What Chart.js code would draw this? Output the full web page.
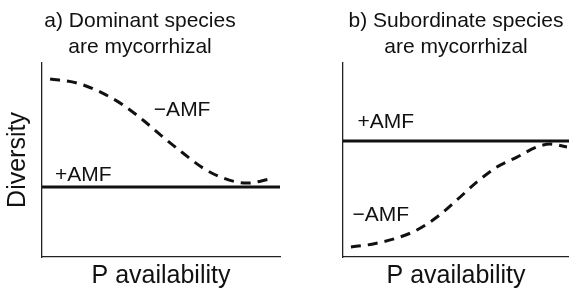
<!DOCTYPE html>
<html lang="en">
<head>
<meta charset="UTF-8">
<title>Diversity vs P availability</title>
<script src="https://cdn.jsdelivr.net/npm/chart.js"></script>
<style>
    body { margin: 0; background: #fff; width: 569px; height: 288px; position: relative; overflow: hidden; }
    canvas { position: absolute; top: 0; }
    #panelA { left: 0; }
    #panelB { left: 290px; }
</style>
</head>
<body>
<canvas id="panelA" width="290" height="288"></canvas>
<canvas id="panelB" width="279" height="288"></canvas>
<script>
// panel a) dominant species are mycorrhizal
const titleA = ['a) Dominant species', 'are mycorrhizal'];
const xA = [0.34, 1.47, 2.44, 3.40, 4.24, 5.08, 5.92, 6.76, 7.61, 8.61, 9.58];
const minusAmfA = [9.18, 8.97, 8.51, 7.84, 7.06, 6.19, 5.36, 4.59, 4.07, 3.81, 4.02];
const plusAmfA = 3.61;

// panel b) subordinate species are mycorrhizal
const titleB = ['b) Subordinate species', 'are mycorrhizal'];
const xB = [0.35, 1.33, 2.39, 3.27, 4.16, 5.04, 5.93, 6.81, 7.70, 8.58, 9.16, 9.91];
const minusAmfB = [0.52, 0.67, 0.98, 1.39, 2.06, 2.94, 3.87, 4.64, 5.15, 5.67, 5.82, 5.67];
const plusAmfB = 5.98;

const xLabel = 'P availability';
const yLabel = 'Diversity';

// curve labels, anchored in data units
const labelsA = [{ text: '\u2212AMF', x: 4.7, y: 7.58 }, { text: '+AMF', x: 0.55, y: 4.23 }];
const labelsB = [{ text: '+AMF', x: 0.64, y: 6.96 }, { text: '\u2212AMF', x: 0.42, y: 2.16 }];

const FONT = '"Liberation Sans", Arial, sans-serif';
const INK = '#111';

const curveLabels = {
    id: 'curveLabels',
    afterDatasetsDraw(chart, args, opts) {
        const { ctx, scales: { x, y } } = chart;
        ctx.save();
        ctx.font = '21px ' + FONT;
        ctx.fillStyle = INK;
        ctx.textBaseline = 'middle';
        ctx.textAlign = 'left';
        (opts.items || []).forEach(it => {
            ctx.fillText(it.text, x.getPixelForValue(it.x), y.getPixelForValue(it.y));
        });
        ctx.restore();
    }
};

function makePanel(id, title, xs, minus, plus, labels, showY, pad) {
    const ctx = document.getElementById(id).getContext('2d');
    return new Chart(ctx, {
        type: 'line',
        data: {
            datasets: [
                {
                    label: '+AMF',
                    data: [{ x: 0, y: plus }, { x: 10, y: plus }],
                    borderColor: INK,
                    borderWidth: 3,
                    pointRadius: 0,
                    fill: false
                },
                {
                    label: '\u2212AMF',
                    data: xs.map((v, i) => ({ x: v, y: minus[i] })),
                    borderColor: INK,
                    borderWidth: 3,
                    borderDash: [10, 7],
                    pointRadius: 0,
                    cubicInterpolationMode: 'monotone',
                    fill: false
                }
            ]
        },
        options: {
            responsive: false,
            devicePixelRatio: 1,
            animation: false,
            layout: { padding: pad },
            plugins: {
                legend: { display: false },
                tooltip: { enabled: false },
                title: {
                    display: true,
                    text: title,
                    color: INK,
                    font: { family: FONT, size: 21, weight: 'normal', lineHeight: 1.25 },
                    padding: { top: 8, bottom: 2.5 }
                },
                curveLabels: { items: labels }
            },
            scales: {
                x: {
                    type: 'linear', min: 0, max: 10,
                    grid: { display: false, drawTicks: false },
                    ticks: { display: false },
                    border: { display: true, color: '#222', width: 1.3 },
                    title: {
                        display: true, text: xLabel, color: INK,
                        font: { family: FONT, size: 25, lineHeight: 0.92 },
                        padding: { top: 8, bottom: 0 }
                    }
                },
                y: {
                    min: 0, max: 10,
                    grid: { display: false, drawTicks: false },
                    ticks: { display: false },
                    border: { display: true, color: '#222', width: 1.3 },
                    title: {
                        display: showY, text: yLabel, color: INK,
                        font: { family: FONT, size: 25, lineHeight: 0.92 },
                        padding: { top: 7, bottom: 12 }
                    }
                }
            }
        },
        plugins: [curveLabels]
    });
}

makePanel('panelA', titleA, xA, minusAmfA, plusAmfA, labelsA, true, { left: 0, right: 10, top: 0, bottom: 0 });
makePanel('panelB', titleB, xB, minusAmfB, plusAmfB, labelsB, false, { left: 53, right: 0, top: 0, bottom: 0 });
</script>
</body>
</html>
